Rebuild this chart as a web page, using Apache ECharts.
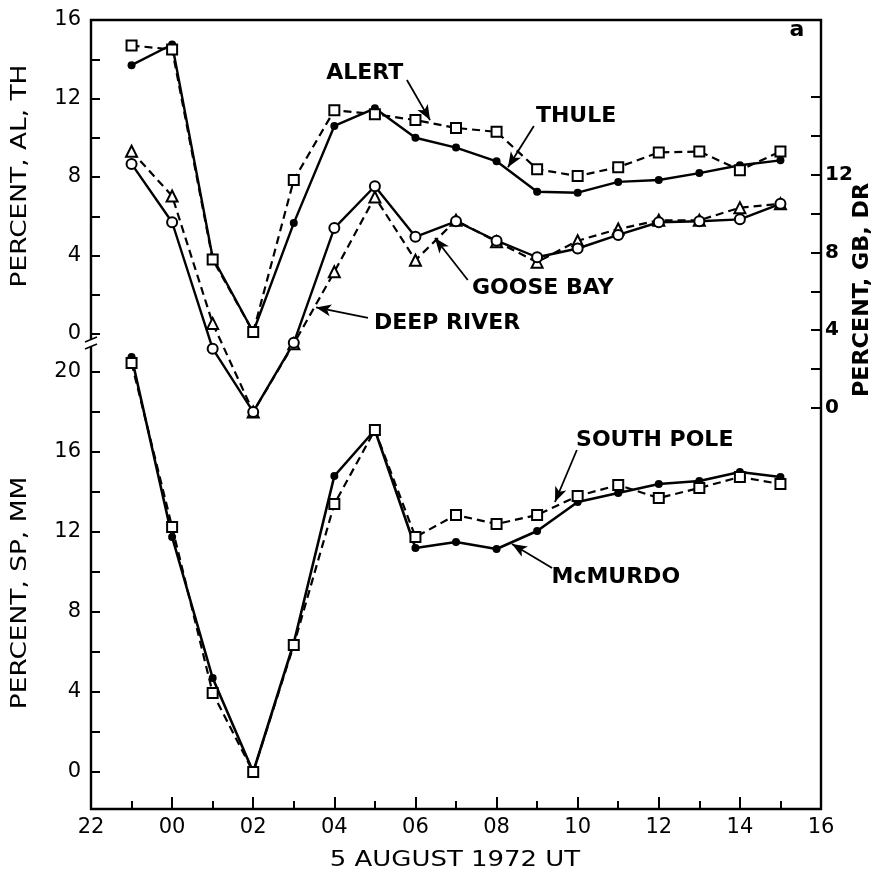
<!DOCTYPE html>
<html>
<head>
<meta charset="utf-8">
<script src="https://cdn.jsdelivr.net/npm/echarts@6/dist/echarts.min.js"></script>
<style>html,body{margin:0;padding:0;background:#fff;}#c{width:878px;height:876px;}</style>
</head>
<body>
<div id="c"></div>
<script>
// Hours relative to 00 UT on 5 August (22 UT of previous day = -2)
const hours = [-1,0,1,2,3,4,5,6,7,8,9,10,11,12,13,14,15];
const xTickLabels = ['22','00','02','04','06','08','10','12','14','16'];
// Left upper axis (PERCENT, AL, TH)
const alert = [14.7,14.5,3.8,0.1,7.85,11.4,11.2,10.9,10.5,10.3,8.4,8.05,8.5,9.25,9.3,8.35,9.3];
const thule = [13.7,14.75,3.9,0.1,5.65,10.6,11.5,10.0,9.5,8.8,7.25,7.2,7.75,7.85,8.2,8.6,8.85];
// Right axis (PERCENT, GB, DR)
const gooseBay = [12.55,9.55,3.05,-0.2,3.35,9.25,11.4,8.8,9.6,8.6,7.75,8.2,8.9,9.55,9.6,9.7,10.5];
const deepRiver = [13.2,10.9,4.35,-0.2,3.3,7.0,10.85,7.6,9.65,8.55,7.5,8.6,9.2,9.65,9.65,10.3,10.5];
// Left lower axis (PERCENT, SP, MM)
const southPole = [20.45,12.25,3.95,0,6.35,13.4,17.1,11.75,12.85,12.4,12.85,13.8,14.35,13.7,14.2,14.75,14.4];
const mcMurdo = [20.75,11.75,4.7,0,6.45,14.8,17.1,11.2,11.5,11.15,12.05,13.5,13.95,14.4,14.55,15.0,14.75];

const FONT = 'DejaVu Sans';
const pts = arr => hours.map((h, i) => [h, arr[i]]);
const black = '#000';
const dash = [8, 5];

function labelPoint(text, h, v) {
  return {
    coord: [h, v], value: text,
    symbol: 'circle', symbolSize: 1,
    itemStyle: { color: 'rgba(0,0,0,0)' },
    label: { show: true, position: 'inside', formatter: text, color: black,
             fontFamily: FONT, fontWeight: 'bold', fontSize: 22 }
  };
}
function arrow(h1, v1, h2, v2) {
  return [{ coord: [h1, v1] }, { coord: [h2, v2] }];
}
const markLineBase = {
  silent: true, symbol: ['none', 'arrow'], symbolSize: [9, 15],
  itemStyle: { color: black },
  lineStyle: { color: black, width: 1.8, type: 'solid' },
  label: { show: false }, animation: false
};
const markPointBase = { silent: true, animation: false };

const L = 91, R = 57;
const xHidden = idx => ({ gridIndex: idx, type: 'value', min: -2, max: 16, show: false });
const tickStyle = { color: black, width: 2 };

const option = {
  animation: false,
  backgroundColor: '#fff',
  grid: [
    { left: L, right: R, top: 20, bottom: 67, show: true, borderColor: black, borderWidth: 2.4, backgroundColor: 'transparent' },
    { left: L, right: R, top: 20, height: 314 },
    { left: L, right: R, top: 96.8, height: 311.2 },
    { left: L, right: R, top: 372, height: 400 }
  ],
  xAxis: [
    {
      gridIndex: 0, type: 'value', min: -2, max: 16, interval: 2,
      axisLine: { show: false, onZero: false },
      axisTick: { show: true, inside: true, length: 12, lineStyle: tickStyle },
      minorTick: { show: true, splitNumber: 2, length: 8, lineStyle: tickStyle },
      splitLine: { show: false }, minorSplitLine: { show: false },
      axisLabel: { formatter: v => xTickLabels[Math.round((v + 2) / 2)], color: black, fontFamily: FONT, fontSize: 21, margin: 8 }
    },
    xHidden(1), xHidden(2), xHidden(3)
  ],
  yAxis: [
    { gridIndex: 0, type: 'value', min: 0, max: 1, show: false },
    {
      gridIndex: 1, type: 'value', position: 'left', min: 0, max: 16, interval: 2,
      axisLine: { show: false, onZero: false },
      axisTick: { show: true, inside: true, length: 9, lineStyle: tickStyle },
      splitLine: { show: false },
      axisLabel: { formatter: v => (v % 4 === 0 ? String(v) : ''), color: black, fontFamily: FONT, fontSize: 21, margin: 10 }
    },
    {
      gridIndex: 2, type: 'value', position: 'right', min: 0, max: 16, interval: 2,
      axisLine: { show: false, onZero: false },
      axisTick: { show: true, inside: true, length: 10, lineStyle: tickStyle },
      splitLine: { show: false },
      axisLabel: { formatter: v => (v % 4 === 0 && v < 16 ? String(v) : ''), color: black, fontFamily: FONT, fontWeight: 'bold', fontSize: 20, margin: 4 }
    },
    {
      gridIndex: 3, type: 'value', position: 'left', min: 0, max: 20, interval: 2,
      axisLine: { show: false, onZero: false },
      axisTick: { show: true, inside: true, length: 9, lineStyle: tickStyle },
      splitLine: { show: false },
      axisLabel: { formatter: v => (v % 4 === 0 ? String(v) : ''), color: black, fontFamily: FONT, fontSize: 21, margin: 10 }
    }
  ],
  series: [
    {
      name: 'THULE', type: 'line', xAxisIndex: 1, yAxisIndex: 1, data: pts(thule), clip: false,
      symbol: 'circle', symbolSize: 8,
      lineStyle: { color: black, width: 2.4 }, itemStyle: { color: black }
    },
    {
      name: 'ALERT', type: 'line', xAxisIndex: 1, yAxisIndex: 1, data: pts(alert), clip: false,
      symbol: 'rect', symbolSize: 10,
      lineStyle: { color: black, width: 2.2, type: dash },
      itemStyle: { color: '#fff', borderColor: black, borderWidth: 2 },
      markPoint: Object.assign({}, markPointBase, { data: [labelPoint('ALERT', 4.75, 13.3), labelPoint('THULE', 9.96, 11.1)] }),
      markLine: Object.assign({}, markLineBase, { data: [arrow(5.79, 12.94, 6.36, 10.9), arrow(8.92, 10.6, 8.28, 8.5)] })
    },
    {
      name: 'DEEP RIVER', type: 'line', xAxisIndex: 2, yAxisIndex: 2, data: pts(deepRiver), clip: false,
      symbol: 'triangle', symbolSize: 11,
      lineStyle: { color: black, width: 2.2, type: dash },
      itemStyle: { color: '#fff', borderColor: black, borderWidth: 2 }
    },
    {
      name: 'GOOSE BAY', type: 'line', xAxisIndex: 2, yAxisIndex: 2, data: pts(gooseBay), clip: false,
      symbol: 'circle', symbolSize: 10,
      lineStyle: { color: black, width: 2.4 },
      itemStyle: { color: '#fff', borderColor: black, borderWidth: 2 },
      markPoint: Object.assign({}, markPointBase, { data: [labelPoint('GOOSE BAY', 9.14, 6.17), labelPoint('DEEP RIVER', 6.78, 4.37)] }),
      markLine: Object.assign({}, markLineBase, { data: [arrow(7.29, 6.58, 6.48, 8.74), arrow(4.83, 4.63, 3.55, 5.17)] })
    },
    {
      name: 'McMURDO', type: 'line', xAxisIndex: 3, yAxisIndex: 3, data: pts(mcMurdo), clip: false,
      symbol: 'circle', symbolSize: 8,
      lineStyle: { color: black, width: 2.6 }, itemStyle: { color: black }
    },
    {
      name: 'SOUTH POLE', type: 'line', xAxisIndex: 3, yAxisIndex: 3, data: pts(southPole), clip: false,
      symbol: 'rect', symbolSize: 10,
      lineStyle: { color: black, width: 2.2, type: dash },
      itemStyle: { color: '#fff', borderColor: black, borderWidth: 2 },
      markPoint: Object.assign({}, markPointBase, { data: [labelPoint('SOUTH POLE', 11.9, 16.6), labelPoint('McMURDO', 10.94, 9.75)] }),
      markLine: Object.assign({}, markLineBase, { data: [arrow(9.98, 16.1, 9.44, 13.5), arrow(9.37, 10.2, 8.38, 11.4)] })
    }
  ],
  graphic: [
    { type: 'rect', shape: { x: 85, y: 339, width: 12, height: 8 }, style: { fill: '#fff' }, z: 100 },
    { type: 'line', shape: { x1: 85, y1: 342, x2: 97, y2: 337 }, style: { stroke: black, lineWidth: 1.6 }, z: 101 },
    { type: 'line', shape: { x1: 85, y1: 349, x2: 97, y2: 344 }, style: { stroke: black, lineWidth: 1.6 }, z: 101 },
    { type: 'text', x: 797, y: 30, style: { text: 'a', font: 'bold 22px "DejaVu Sans"', fill: black, textAlign: 'center', textVerticalAlign: 'middle' }, z: 100 },
    { type: 'text', x: 20, y: 176, rotation: Math.PI / 2, scaleX: 1.2, style: { text: 'PERCENT, AL, TH', font: '22px "DejaVu Sans"', fill: black, textAlign: 'center', textVerticalAlign: 'middle' }, z: 100 },
    { type: 'text', x: 20, y: 593, rotation: Math.PI / 2, scaleX: 1.2, style: { text: 'PERCENT, SP, MM', font: '22px "DejaVu Sans"', fill: black, textAlign: 'center', textVerticalAlign: 'middle' }, z: 100 },
    { type: 'text', x: 863, y: 290, rotation: Math.PI / 2, scaleX: 1.06, style: { text: 'PERCENT, GB, DR', font: 'bold 21px "DejaVu Sans"', fill: black, textAlign: 'center', textVerticalAlign: 'middle' }, z: 100 },
    { type: 'text', x: 455, y: 860, scaleX: 1.18, style: { text: '5 AUGUST 1972 UT', font: '22px "DejaVu Sans"', fill: black, textAlign: 'center', textVerticalAlign: 'middle' }, z: 100 }
  ]
};

const chart = echarts.init(document.getElementById('c'), null, { renderer: 'canvas' });
chart.setOption(option);
</script>
</body>
</html>
